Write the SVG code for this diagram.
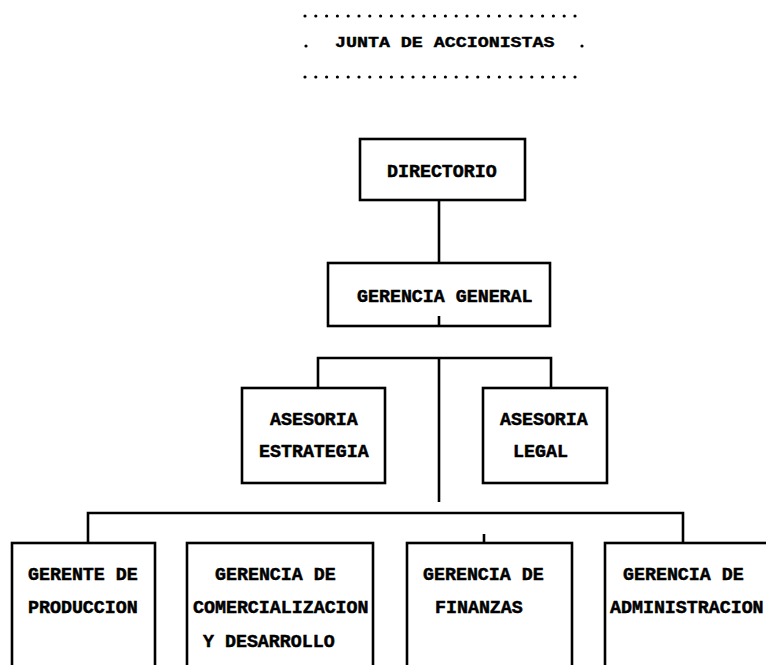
<svg xmlns="http://www.w3.org/2000/svg" width="766" height="665" viewBox="0 0 766 665">
<style>
.box{fill:none;stroke:#000;stroke-width:2.6}
.ln{fill:none;stroke:#000;stroke-width:2.6}
.dots{fill:none;stroke:#000;stroke-width:3.2;stroke-dasharray:0 10.8;stroke-linecap:round}
text{font-family:"Liberation Mono","Courier New",monospace;font-weight:bold;font-size:18.3px;fill:#000;stroke:#000;stroke-width:0.5}
</style>
<rect width="766" height="665" fill="#fff"/>
<g id="junta">
<line class="dots" x1="305" y1="16" x2="584" y2="16"/>
<line class="dots" x1="305" y1="77" x2="584" y2="77"/>
<circle cx="306" cy="46" r="1.6"/>
<circle cx="582" cy="46" r="1.6"/>
<text x="335" y="47" transform="translate(0,47) scale(1,0.8) translate(0,-47)">JUNTA DE ACCIONISTAS</text>
</g>
<g id="connectors">
<line class="ln" x1="439" y1="200" x2="439" y2="263"/>
<line class="ln" x1="439" y1="316" x2="439" y2="326"/>
<polyline class="ln" points="318,388 318,358 551,358 551,388"/>
<line class="ln" x1="439" y1="358" x2="439" y2="502"/>
<polyline class="ln" points="88,543 88,513 683,513 683,543"/>
<line class="ln" x1="484" y1="534" x2="484" y2="543"/>
</g>
<g id="directorio">
<rect class="box" x="360" y="139" width="165" height="61"/>
<text x="387" y="177">DIRECTORIO</text>
</g>
<g id="gerencia-general">
<rect class="box" x="328" y="263" width="222" height="63"/>
<text x="357" y="302">GERENCIA GENERAL</text>
</g>
<g id="asesoria-estrategia">
<rect class="box" x="242" y="388" width="143" height="95"/>
<text x="270" y="425">ASESORIA</text>
<text x="259" y="457">ESTRATEGIA</text>
</g>
<g id="asesoria-legal">
<rect class="box" x="483" y="388" width="124" height="95"/>
<text x="500" y="425">ASESORIA</text>
<text x="513" y="457">LEGAL</text>
</g>
<g id="gerente-produccion">
<rect class="box" x="12" y="543" width="143" height="140"/>
<text x="28" y="580">GERENTE DE</text>
<text x="28" y="613">PRODUCCION</text>
</g>
<g id="gerencia-comercializacion">
<rect class="box" x="187" y="543" width="186" height="140"/>
<text x="215" y="580">GERENCIA DE</text>
<text x="193" y="613">COMERCIALIZACION</text>
<text x="203" y="647">Y DESARROLLO</text>
</g>
<g id="gerencia-finanzas">
<rect class="box" x="407" y="543" width="165" height="140"/>
<text x="423" y="580">GERENCIA DE</text>
<text x="435" y="613">FINANZAS</text>
</g>
<g id="gerencia-administracion">
<rect class="box" x="605" y="543" width="190" height="140"/>
<text x="623" y="580">GERENCIA DE</text>
<text x="610" y="613">ADMINISTRACION</text>
</g>
</svg>
